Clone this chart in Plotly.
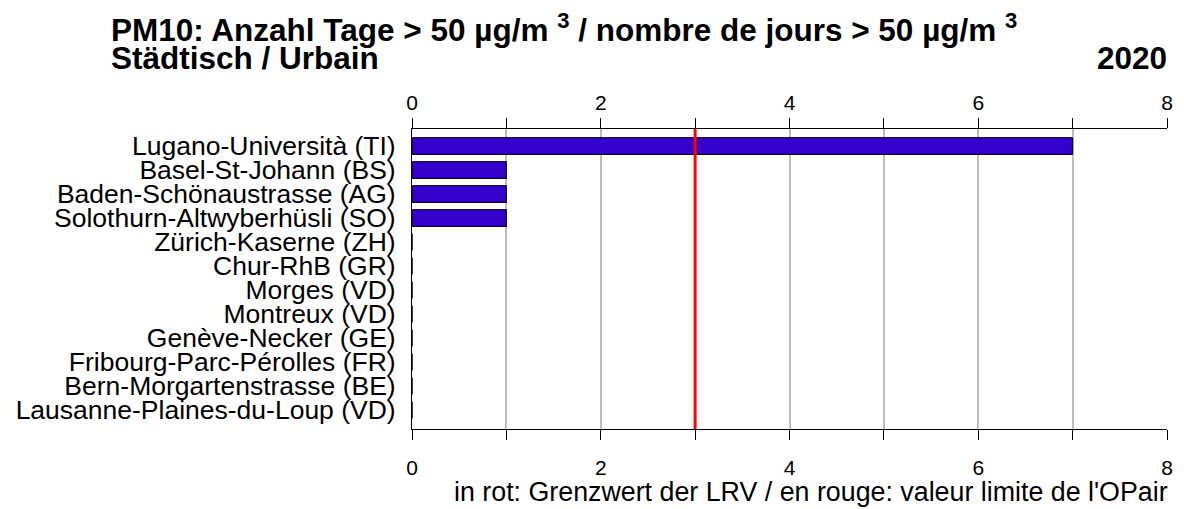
import plotly.graph_objects as go

stations = [
    "Lugano-Università (TI)",
    "Basel-St-Johann (BS)",
    "Baden-Schönaustrasse (AG)",
    "Solothurn-Altwyberhüsli (SO)",
    "Zürich-Kaserne (ZH)",
    "Chur-RhB (GR)",
    "Morges (VD)",
    "Montreux (VD)",
    "Genève-Necker (GE)",
    "Fribourg-Parc-Pérolles (FR)",
    "Bern-Morgartenstrasse (BE)",
    "Lausanne-Plaines-du-Loup (VD)",
]
days = [7, 1, 1, 1, 0, 0, 0, 0, 0, 0, 0, 0]
limit_value = 3
tick_values = [0, 1, 2, 3, 4, 5, 6, 7, 8]
tick_labels = ["0", "", "2", "", "4", "", "6", "", "8"]

W, H = 1184, 509
L, R, T, B = 412, 17, 129, 80
PW, PH = W - L - R, H - T - B

def px(x):
    return (x - L) / PW

def py(y):
    return (H - B - y) / PH

FONT = "Liberation Sans, Arial, sans-serif"

fig = go.Figure()
fig.add_trace(go.Bar(
    x=days, y=stations, orientation="h", width=0.7,
    marker=dict(color="#3300CC", line=dict(color="black", width=1)),
    hoverinfo="x+y", showlegend=False,
))
fig.add_trace(go.Scatter(
    x=days, y=stations, xaxis="x2", mode="markers",
    marker=dict(opacity=0), hoverinfo="skip", showlegend=False,
))

fig.add_shape(type="line", xref="x", yref="paper", x0=limit_value, x1=limit_value,
              y0=0, y1=1, line=dict(color="red", width=3), layer="above")

axis_common = dict(
    range=[0, 8], tickmode="array", tickvals=tick_values, ticktext=tick_labels,
    ticks="outside", ticklen=10, tickcolor="black", tickwidth=1,
    showline=True, linecolor="black", linewidth=1,
    tickfont=dict(family=FONT, size=21, color="black"), zeroline=False,
)

fig.update_layout(
    width=W, height=H,
    margin=dict(l=L, r=R, t=T, b=B, autoexpand=False),
    paper_bgcolor="white", plot_bgcolor="white",
    xaxis=dict(**axis_common, side="bottom", showgrid=True, gridcolor="#BEBEBE",
               gridwidth=1.5, ticklabelstandoff=10),
    xaxis2=dict(**axis_common, side="top", overlaying="x", matches="x", showgrid=False,
                ticklabelstandoff=0),
    yaxis=dict(autorange=False, range=[11.79, -0.71], type="category",
               tickmode="array", tickvals=stations, ticktext=stations,
               showline=True, linecolor="black", linewidth=1, ticks="",
               showgrid=False, ticklabelstandoff=10,
               tickfont=dict(family=FONT, size=26.5, color="black")),
    annotations=[
        dict(xref="paper", yref="paper", x=px(109), y=py(28), xanchor="left", yanchor="middle",
             text="<b>PM10: Anzahl Tage &gt; 50 µg/m <sup>3</sup> / nombre de jours &gt; 50 µg/m <sup>3</sup></b>",
             showarrow=False, font=dict(family=FONT, size=31.5, color="black")),
        dict(xref="paper", yref="paper", x=px(109), y=py(58), xanchor="left", yanchor="middle",
             text="<b>Städtisch / Urbain</b>",
             showarrow=False, font=dict(family=FONT, size=31.5, color="black")),
        dict(xref="paper", yref="paper", x=px(1169), y=py(58), xanchor="right", yanchor="middle",
             text="<b>2020</b>",
             showarrow=False, font=dict(family=FONT, size=31.5, color="black")),
        dict(xref="paper", yref="paper", x=px(1170), y=py(492), xanchor="right", yanchor="middle",
             text="in rot: Grenzwert der LRV / en rouge: valeur limite de l'OPair",
             showarrow=False, font=dict(family=FONT, size=26.8, color="black")),
    ],
)

fig.write_html("out.html", config={"displayModeBar": False},
               post_script="document.body.style.margin='0';document.body.style.overflow='hidden';")
